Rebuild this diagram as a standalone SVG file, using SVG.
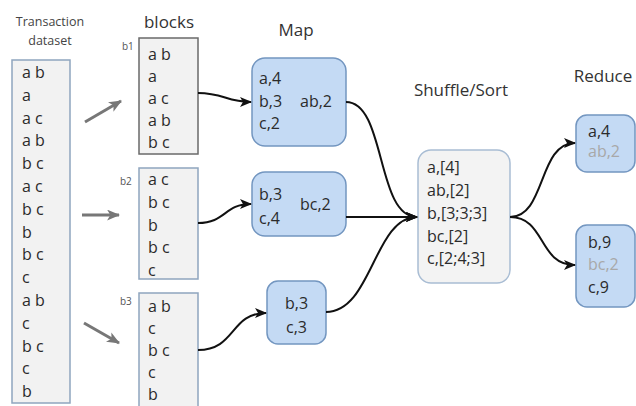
<svg xmlns="http://www.w3.org/2000/svg" width="636" height="406" viewBox="0 0 636 406">
  <defs>
    <style>
      text { font-family: "Open Sans", "Noto Sans", "DejaVu Sans", sans-serif; fill: #2b2b2b; }
      .t { font-size: 16px; }
      .h { font-size: 17px; fill: #333; }
      .small { font-size: 12.5px; fill: #444; }
      .lbl { font-size: 10px; fill: #555; }
      .muted { fill: #a8a8a8; }
      .plain { fill: #f2f2f2; stroke: #8fa5be; stroke-width: 1.5; }
      .plain-dark { fill: #f2f2f2; stroke: #6a6a6a; stroke-width: 1.5; }
      .mapbox { fill: #c4daf4; stroke: #7396c0; stroke-width: 1.5; }
      .shufbox { fill: #f3f3f3; stroke: #a9bdd4; stroke-width: 1.5; }
      .flow { fill: none; stroke: #111; stroke-width: 2; }
      .split { fill: none; stroke: #777; stroke-width: 3; }
    </style>
    <marker id="head" viewBox="0 0 12 10" refX="11" refY="5" markerWidth="12" markerHeight="10" markerUnits="userSpaceOnUse" orient="auto">
      <path d="M0,0 L12,5 L0,10 L3,5 z" fill="#111"/>
    </marker>
    <marker id="grayhead" viewBox="0 0 12 10" refX="11" refY="5" markerWidth="13" markerHeight="11" markerUnits="userSpaceOnUse" orient="auto">
      <path d="M0,0 L12,5 L0,10 L3,5 z" fill="#777"/>
    </marker>
  </defs>

  <!-- column titles -->
  <g id="titles">
    <text class="small" x="50" y="26" text-anchor="middle">Transaction</text>
    <text class="small" x="50" y="45" text-anchor="middle">dataset</text>
    <text class="h" x="169" y="28" text-anchor="middle">blocks</text>
    <text class="h" x="296" y="36" text-anchor="middle">Map</text>
    <text class="h" x="461" y="96" text-anchor="middle">Shuffle/Sort</text>
    <text class="h" x="603" y="82" text-anchor="middle">Reduce</text>
  </g>

  <!-- full transaction list -->
  <g id="dataset">
    <rect class="plain" x="12" y="60" width="58" height="343"/>
    <text class="t" x="22" y="78">a b</text>
    <text class="t" x="22" y="100.8">a</text>
    <text class="t" x="22" y="123.6">a c</text>
    <text class="t" x="22" y="146.4">a b</text>
    <text class="t" x="22" y="169.2">b c</text>
    <text class="t" x="22" y="192">a c</text>
    <text class="t" x="22" y="214.8">b c</text>
    <text class="t" x="22" y="237.6">b</text>
    <text class="t" x="22" y="260.4">b c</text>
    <text class="t" x="22" y="283.2">c</text>
    <text class="t" x="22" y="306">a b</text>
    <text class="t" x="22" y="328.8">c</text>
    <text class="t" x="22" y="351.6">b c</text>
    <text class="t" x="22" y="374.4">c</text>
    <text class="t" x="22" y="397.2">b</text>
  </g>

  <!-- splitting arrows -->
  <g id="split-arrows">
    <line class="split" x1="85" y1="122" x2="121" y2="101" marker-end="url(#grayhead)"/>
    <line class="split" x1="82" y1="215" x2="119" y2="215" marker-end="url(#grayhead)"/>
    <line class="split" x1="84" y1="323" x2="119" y2="343" marker-end="url(#grayhead)"/>
  </g>

  <!-- blocks -->
  <g id="block-b1">
    <text class="lbl" x="122" y="50">b1</text>
    <rect class="plain-dark" x="139" y="38" width="59" height="116"/>
    <text class="t" x="148" y="60">a b</text>
    <text class="t" x="148" y="82">a</text>
    <text class="t" x="148" y="104">a c</text>
    <text class="t" x="148" y="126">a b</text>
    <text class="t" x="148" y="148">b c</text>
  </g>
  <g id="block-b2">
    <text class="lbl" x="120" y="185">b2</text>
    <rect class="plain" x="139" y="168" width="59" height="111"/>
    <text class="t" x="148" y="185">a c</text>
    <text class="t" x="148" y="208">b c</text>
    <text class="t" x="148" y="231">b</text>
    <text class="t" x="148" y="253">b c</text>
    <text class="t" x="148" y="276">c</text>
  </g>
  <g id="block-b3">
    <text class="lbl" x="120" y="305">b3</text>
    <rect class="plain" x="139" y="293" width="59" height="120"/>
    <text class="t" x="148" y="312">a b</text>
    <text class="t" x="148" y="334">c</text>
    <text class="t" x="148" y="356">b c</text>
    <text class="t" x="148" y="378">c</text>
    <text class="t" x="148" y="400">b</text>
  </g>

  <!-- map outputs -->
  <g id="map-1">
    <rect class="mapbox" x="252" y="58" width="94" height="88" rx="13"/>
    <text class="t" x="259" y="84">a,4</text>
    <text class="t" x="259" y="107">b,3</text>
    <text class="t" x="259" y="129">c,2</text>
    <text class="t" x="300" y="107">ab,2</text>
  </g>
  <g id="map-2">
    <rect class="mapbox" x="252" y="172" width="94" height="64" rx="13"/>
    <text class="t" x="259" y="200">b,3</text>
    <text class="t" x="259" y="224">c,4</text>
    <text class="t" x="300" y="210">bc,2</text>
  </g>
  <g id="map-3">
    <rect class="mapbox" x="267" y="281" width="59" height="63" rx="11"/>
    <text class="t" x="296.5" y="309" text-anchor="middle">b,3</text>
    <text class="t" x="296.5" y="333" text-anchor="middle">c,3</text>
  </g>

  <!-- grouped keys -->
  <g id="shuffle">
    <rect class="shufbox" x="418" y="150" width="92" height="133" rx="13"/>
    <text class="t" x="427" y="173">a,[4]</text>
    <text class="t" x="427" y="196">ab,[2]</text>
    <text class="t" x="427" y="219">b,[3;3;3]</text>
    <text class="t" x="427" y="242">bc,[2]</text>
    <text class="t" x="427" y="264">c,[2;4;3]</text>
  </g>

  <!-- reducer outputs -->
  <g id="reduce-1">
    <rect class="mapbox" x="576" y="115" width="59" height="57" rx="11"/>
    <text class="t" x="588" y="137">a,4</text>
    <text class="t muted" x="588" y="157">ab,2</text>
  </g>
  <g id="reduce-2">
    <rect class="mapbox" x="576" y="225" width="59" height="82" rx="11"/>
    <text class="t" x="588" y="248">b,9</text>
    <text class="t muted" x="588" y="270">bc,2</text>
    <text class="t" x="588" y="293">c,9</text>
  </g>

  <!-- data flow -->
  <g id="connectors">
    <path class="flow" d="M198,93 C224,93 226,102 251,102" marker-end="url(#head)"/>
    <path class="flow" d="M198,223 C226,223 224,204 251,204" marker-end="url(#head)"/>
    <path class="flow" d="M198,350 C236,350 230,313 266,313" marker-end="url(#head)"/>
    <path class="flow" d="M346,102 C386,102 376,217 417,217" marker-end="url(#head)"/>
    <path class="flow" d="M346,217 L417,217" marker-end="url(#head)"/>
    <path class="flow" d="M326,312 C372,312 374,217 417,217" marker-end="url(#head)"/>
    <path class="flow" d="M510,217 C546,217 538,143 575,143" marker-end="url(#head)"/>
    <path class="flow" d="M510,217 C546,217 538,265 575,265" marker-end="url(#head)"/>
  </g>
</svg>
